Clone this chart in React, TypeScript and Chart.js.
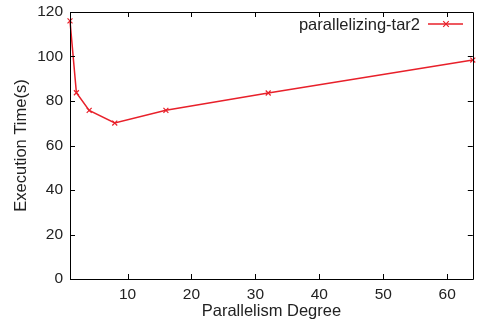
import React, { useEffect, useRef } from "react";
import { Chart, registerables } from "chart.js";

Chart.register(...registerables);

const degrees = [1, 2, 4, 8, 16, 32, 64];
const times = [116, 83.7, 75.8, 70.1, 75.8, 83.6, 98.4];
const xTickValues = [10, 20, 30, 40, 50, 60];
const yTickValues = [0, 20, 40, 60, 80, 100, 120];
const seriesName = "parallelizing-tar2";
const RED = "#e8202a";
const FONT = "'Liberation Sans', Arial, sans-serif";

export default function App() {
  const ref = useRef<HTMLCanvasElement | null>(null);
  useEffect(() => {
    if (!ref.current) return;
    const framePlugin = {
      id: "frame",
      afterDatasetsDraw(chart: any) {
        const { ctx, chartArea: a, scales } = chart;
        ctx.save();
        ctx.strokeStyle = "#000";
        ctx.lineWidth = 1;
        ctx.beginPath();
        ctx.rect(Math.round(a.left) + 0.5, Math.round(a.top) + 0.5, Math.round(a.right - a.left), Math.round(a.bottom - a.top));
        ctx.stroke();
        const L = 5;
        ctx.beginPath();
        for (const v of xTickValues) {
          const x = Math.round(scales.x.getPixelForValue(v)) + 0.5;
          ctx.moveTo(x, a.bottom);
          ctx.lineTo(x, a.bottom - L);
          ctx.moveTo(x, a.top);
          ctx.lineTo(x, a.top + L);
        }
        for (const v of yTickValues) {
          const y = Math.round(scales.y.getPixelForValue(v)) + 0.5;
          ctx.moveTo(a.left, y);
          ctx.lineTo(a.left + L, y);
          ctx.moveTo(a.right, y);
          ctx.lineTo(a.right - L, y);
        }
        ctx.stroke();
        // legend
        const ly = a.top + 12;
        ctx.fillStyle = "#222";
        ctx.font = `16.5px ${FONT}`;
        ctx.textAlign = "right";
        ctx.textBaseline = "middle";
        ctx.fillText(seriesName, 420, ly + 1);
        ctx.strokeStyle = RED;
        ctx.lineWidth = 1.5;
        ctx.beginPath();
        ctx.moveTo(428, ly);
        ctx.lineTo(463, ly);
        ctx.stroke();
        ctx.lineWidth = 1.2;
        ctx.beginPath();
        const mx = 446, r = 2.8;
        ctx.moveTo(mx - r, ly - r);
        ctx.lineTo(mx + r, ly + r);
        ctx.moveTo(mx - r, ly + r);
        ctx.lineTo(mx + r, ly - r);
        ctx.stroke();
        ctx.restore();
      },
    };
    const chart = new Chart(ref.current, {
      type: "line",
      data: {
        datasets: [
          {
            label: seriesName,
            data: degrees.map((d, i) => ({ x: d, y: times[i] })),
            borderColor: RED,
            backgroundColor: RED,
            borderWidth: 1.5,
            pointStyle: "crossRot",
            pointRadius: 3.5,
            pointBorderWidth: 1.2,
            tension: 0,
            clip: false,
          } as any,
        ],
      },
      options: {
        animation: false,
        responsive: false,
        maintainAspectRatio: false,
        layout: { padding: { left: 0, right: 1, top: 12, bottom: 0 } },
        plugins: { legend: { display: false }, tooltip: { enabled: false } },
        scales: {
          x: {
            type: "linear",
            min: 1,
            max: 64,
            grid: { display: false, drawTicks: false },
            border: { display: false },
            afterBuildTicks: (s: any) => {
              s.ticks = xTickValues.map((v) => ({ value: v }));
            },
            afterFit: (s: any) => {
              s.height = 42;
              s.paddingLeft = 0;
              s.paddingRight = 0;
            },
            ticks: {
              padding: 6,
              color: "#222",
              font: { family: FONT, size: 15.5 },
              maxRotation: 0,
            },
            title: {
              display: true,
              text: "Parallelism Degree",
              color: "#222",
              font: { family: FONT, size: 16.5 },
              padding: { top: 0, bottom: 0 },
            },
          },
          y: {
            min: 0,
            max: 120,
            grid: { display: false, drawTicks: false },
            border: { display: false },
            afterBuildTicks: (s: any) => {
              s.ticks = yTickValues.map((v) => ({ value: v }));
            },
            afterFit: (s: any) => {
              s.width = 70;
              s.paddingTop = 0;
              s.paddingBottom = 0;
            },
            ticks: {
              padding: 7,
              color: "#222",
              font: { family: FONT, size: 15.5 },
            },
            title: {
              display: true,
              text: "Execution Time(s)",
              color: "#222",
              font: { family: FONT, size: 16.5 },
              padding: { top: 12, bottom: 0 },
            },
          },
        },
      },
      plugins: [framePlugin],
    });
    return () => chart.destroy();
  }, []);
  return (
    <div style={{ position: "absolute", left: 0, top: 0, width: 478, height: 321 }}>
      <canvas ref={ref} width={478} height={321} style={{ width: 478, height: 321 }} />
    </div>
  );
}
